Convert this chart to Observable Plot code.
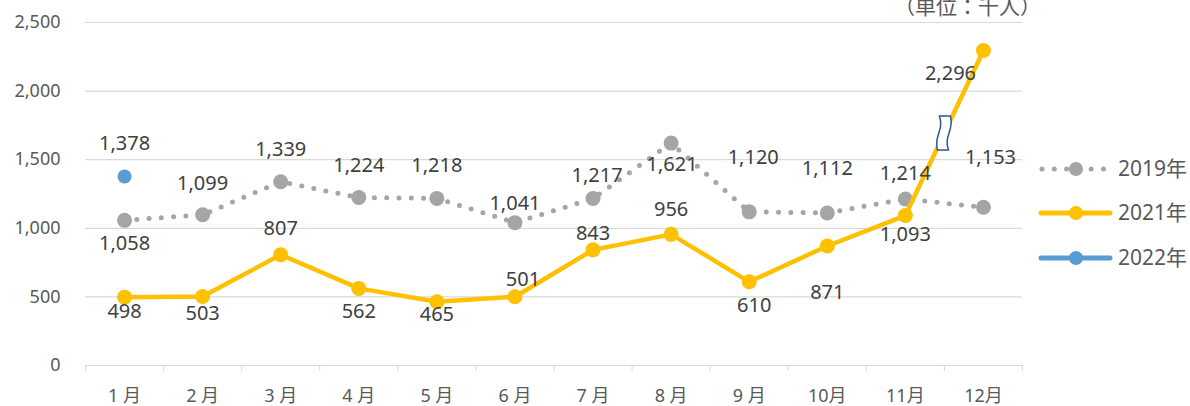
<!DOCTYPE html>
<html><head><meta charset="utf-8">
<script src="https://cdn.jsdelivr.net/npm/d3@7"></script>
<script src="https://cdn.jsdelivr.net/npm/@observablehq/plot@0.6"></script>
<style>
html,body{margin:0;padding:0;background:#fff;}
#wrap{position:relative;width:1190px;height:406px;overflow:hidden;font-family:"Noto Sans","Noto Sans CJK JP",sans-serif;}
#overlay{position:absolute;left:0;top:0;pointer-events:none;}
</style></head><body><div id="wrap"></div>
<script>
// ---- data ----
const months = ["1 月","2 月","3 月","4 月","5 月","6 月","7 月","8 月","9 月","10月","11月","12月"];
const values2019 = [1058,1099,1339,1224,1218,1041,1217,1621,1120,1112,1214,1153];
const values2021 = [498,503,807,562,465,501,843,956,610,871,1093,2296];
const values2022 = [1378];
const seriesNames = ["2019年","2021年","2022年"];
const yTicks = [0,500,1000,1500,2000,2500];
const unitLabel = "（単位：千人）";

// ---- label placement (styling) ----
const dy2019 = [23,-31,-32,-32,-33,-19,-23,21,-54,-44,-25,-50];
const dx2019 = [0,0,0,0,0,0,4,1,4,0,0,7];
const dy2021 = [14,17,-26,23,13,-17,-16,-25,24,47,19,23];
const dx2021 = [0,0,0,0,0,8,0,0,5,0,0,-33];
const dy2022 = [-33];
const dx2022 = [0];

const FONT = '"Noto Sans","Noto Sans CJK JP",sans-serif';
const colors = {"2019年":"#a5a5a5","2021年":"#ffc000","2022年":"#5b9bd5"};
const fmt = d3.format(",");

const rows2019 = values2019.map((v,i)=>({m:i+1,v}));
const rows2021 = values2021.map((v,i)=>({m:i+1,v}));
const rows2022 = values2022.map((v,i)=>({m:i+1,v}));
const monthIdx = months.map((_,i)=>i+1);
const bounds = months.map((_,i)=>i+0.5).concat([months.length+0.5]);

// break mark between 11月 and 12月 on the 2021 line
const breakRow = [{m:(rows2021[10].m+rows2021[11].m)/2, v:(rows2021[10].v+rows2021[11].v)/2}];
const breakSymbol = {draw(ctx){
  ctx.moveTo(-5,-17);
  ctx.lineTo(6,-17);
  ctx.bezierCurveTo(10,-2,-1,2,4,17);
  ctx.lineTo(-7,17);
  ctx.bezierCurveTo(-11,2,0,-2,-5,-17);
  ctx.closePath();
}};

function labels(rows, dys, dxs){
  return rows.map((r,i)=>Plot.text([r],{x:"m",y:"v",text:d=>fmt(d.v),dy:dys[i],dx:dxs[i],
    fill:"#404040",fontSize:20,textAnchor:"middle",lineAnchor:"middle"}));
}

const chart = Plot.plot({
  width:1190, height:406,
  marginLeft:85, marginRight:168, marginTop:22, marginBottom:41,
  style:{fontFamily:FONT, background:"#fff", color:"#595959"},
  x:{type:"linear", domain:[0.5, months.length+0.5]},
  y:{domain:[0,2500]},
  marks:[
    Plot.gridY(yTicks,{stroke:"#d9d9d9",strokeOpacity:1,strokeWidth:1.2}),
    Plot.axisX(bounds,{tickSize:6,tickFormat:()=>"",stroke:"#d9d9d9",strokeOpacity:1,label:null}),
    Plot.axisX(monthIdx,{tickSize:0,tickPadding:24,tickFormat:i=>months[i-1],fontSize:18,fill:"#595959",label:null}),
    Plot.axisY(yTicks,{tickSize:0,tickPadding:25,tickFormat:fmt,fontSize:18,fill:"#595959",label:null}),
    Plot.line(rows2019,{x:"m",y:"v",stroke:colors["2019年"],strokeWidth:5,strokeDasharray:"0 12.3",strokeLinecap:"round"}),
    Plot.dot(rows2019,{x:"m",y:"v",r:7.5,fill:colors["2019年"]}),
    Plot.line(rows2021,{x:"m",y:"v",stroke:colors["2021年"],strokeWidth:4.5,strokeLinejoin:"round",strokeLinecap:"round"}),
    Plot.dot(rows2021,{x:"m",y:"v",r:7.5,fill:colors["2021年"]}),
    Plot.dot(rows2022,{x:"m",y:"v",r:7,fill:colors["2022年"]}),
    Plot.dot(breakRow,{x:"m",y:"v",symbol:breakSymbol,fill:"#fff",stroke:"#2f5597",strokeWidth:1.5}),
    ...labels(rows2019,dy2019,dx2019),
    ...labels(rows2021,dy2021,dx2021),
    ...labels(rows2022,dy2022,dx2022)
  ]
});
const wrap = document.getElementById("wrap");
wrap.appendChild(chart);

// legend + unit label overlay
const ov = d3.select(wrap).append("svg").attr("id","overlay").attr("width",1190).attr("height",406)
  .style("font-family",FONT);
ov.append("text").attr("x",894).attr("y",14).attr("font-size",21).attr("fill","#595959")
  .style("font-family",'"Noto Sans CJK JP",sans-serif').text(unitLabel);
const legY = [169,213,258];
seriesNames.forEach((name,i)=>{
  const g = ov.append("g").attr("transform",`translate(0,${legY[i]})`);
  const c = colors[name];
  if(i===0){
    g.append("line").attr("x1",1042).attr("x2",1106).attr("stroke",c).attr("stroke-width",5)
      .attr("stroke-dasharray","0 12.3").attr("stroke-linecap","round");
  } else {
    g.append("line").attr("x1",1041).attr("x2",1110).attr("stroke",c).attr("stroke-width",5).attr("stroke-linecap","round");
  }
  g.append("circle").attr("cx",1076).attr("r",7).attr("fill",c);
  g.append("text").attr("x",1118).attr("dy","0.35em").attr("font-size",21).attr("fill","#595959").text(name);
});
</script></body></html>
